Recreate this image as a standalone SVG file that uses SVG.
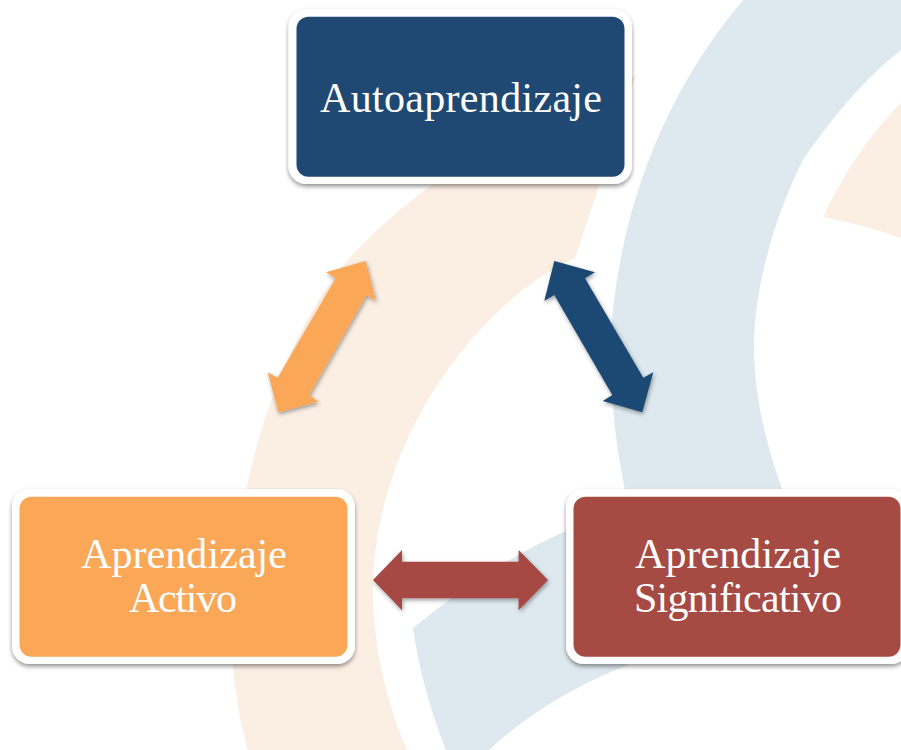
<svg xmlns="http://www.w3.org/2000/svg" width="901" height="750" viewBox="0 0 901 750">
<defs>
<filter id="sh" x="-10%" y="-10%" width="120%" height="125%"><feDropShadow dx="0" dy="2.5" stdDeviation="2.2" flood-color="#000" flood-opacity="0.42"/></filter>
<filter id="ash" x="-15%" y="-15%" width="130%" height="130%"><feDropShadow dx="1" dy="2" stdDeviation="2" flood-color="#000" flood-opacity="0.38"/></filter>
</defs>
<style>
.peach{fill:#fbeee3}
.pale{fill:#dde9ef}
.frame{fill:#fff;filter:url(#sh)}
.lbl{font-family:"Liberation Serif","Times New Roman",serif;font-size:42px;fill:#fff;text-anchor:middle}
.arrow{filter:url(#ash)}
</style>
<rect width="901" height="750" fill="#fff"/>
<g id="background">
<path class="peach" d="M636 75L575 258C480 300 373 440 373 590C373 650 388 705 407 750L248 750C236 710 230 660 232 610C234 480 285 325 357 250C385 222 420 190 470 160Z"/>
<path class="pale" d="M743 0L901 0L901 50C865 78 830 120 803 160C775 215 753 290 754 350C755 400 765 445 790 510L630 510C612 440 610 380 612 320C625 180 680 75 743 0Z"/>
<path class="pale" d="M413 628C460 590 510 555 575 527L640 500L650 660L630 664C575 686 530 712 489 750L446 750C430 710 419 670 413 628Z"/>
<path class="peach" d="M901 103C870 134 843 175 823 217C850 222 876 229 901 238Z"/>
</g>
<g id="connectors">
<path class="arrow" fill="#faa758" d="M365.700 261L376 300.700L366.700 295L309 395L318.300 401.700L278.300 412.300L267.700 372.300L277.700 377.700L335.700 278.300L326 272.300Z"/>
<path class="arrow" fill="#1f4973" d="M554.300 261L595 272.300L585 278.300L643.300 377.700L653.300 372.300L642.300 412.300L602.700 401L612.300 395L554.300 295L544.300 301Z"/>
<path class="arrow" fill="#a64a44" d="M373 580L402 550L402 561.700L518.600 561.700L518.600 550L548 580L518.600 610.300L518.600 598.300L402 598.300L402 610.300Z"/>
</g>
<g id="node-autoaprendizaje">
<rect class="frame" x="288.500" y="9" width="343.500" height="175" rx="18"/>
<rect x="296.500" y="16.800" width="328" height="160" rx="12" fill="#1f4973"/>
<text class="lbl" x="461" y="112" textLength="282" lengthAdjust="spacing">Autoaprendizaje</text>
</g>
<g id="node-activo">
<rect class="frame" x="12" y="489" width="343" height="175" rx="18"/>
<rect x="19.500" y="496.800" width="328" height="160" rx="12" fill="#faa758"/>
<text class="lbl" x="184" y="568" textLength="206" lengthAdjust="spacing">Aprendizaje</text>
<text class="lbl" x="183" y="612" textLength="108" lengthAdjust="spacing">Activo</text>
</g>
<g id="node-significativo">
<rect class="frame" x="566" y="489" width="343" height="175" rx="18"/>
<rect x="573.500" y="496.800" width="327" height="160" rx="12" fill="#a64a44"/>
<text class="lbl" x="738" y="568" textLength="206" lengthAdjust="spacing">Aprendizaje</text>
<text class="lbl" x="738" y="612" textLength="208" lengthAdjust="spacing">Significativo</text>
</g>
</svg>
